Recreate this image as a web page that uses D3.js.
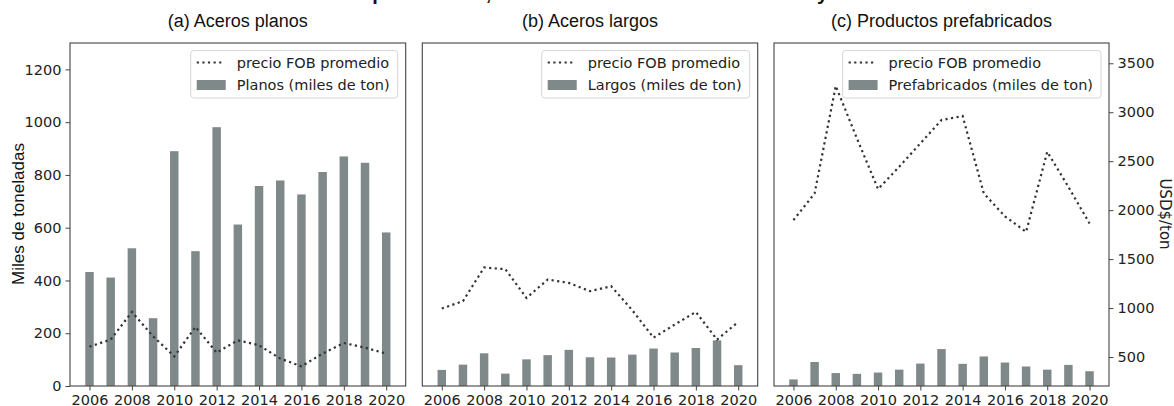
<!DOCTYPE html>
<html><head><meta charset="utf-8">
<script src="https://cdn.jsdelivr.net/npm/d3@7"></script>
<style>body{margin:0;background:#fff}svg{display:block}</style>
</head><body>
<svg id="c" width="1174" height="406"></svg>
<script>
const years = [2006,2007,2008,2009,2010,2011,2012,2013,2014,2015,2016,2017,2018,2019,2020];
const xTicks = [2006,2008,2010,2012,2014,2016,2018,2020];
const leftTicks = [0,200,400,600,800,1000,1200];
const rightTicks = [500,1000,1500,2000,2500,3000,3500];

const planosTon = [432,411,522,257,890,511,981,612,758,779,726,811,870,846,582];
const planosPrecio = [606,678,960,712,507,807,545,671,620,484,405,535,643,596,535];
const largosTon = [61,81,124,47,101,117,137,109,108,119,142,127,144,173,79];
const largosPrecio = [995,1070,1414,1397,1103,1291,1257,1172,1223,977,698,831,960,678,858];
const prefTon = [25,91,49,46,51,62,85,140,84,112,89,74,62,80,56];
const prefPrecio = [1898,2171,3268,2733,2215,2443,2682,2920,2961,2171,1937,1778,2596,2238,1864];

const titles = ["(a) Aceros planos","(b) Aceros largos","(c) Productos prefabricados"];
const barLabels = ["Planos (miles de ton)","Largos (miles de ton)","Prefabricados (miles de ton)"];
const lineLabel = "precio FOB promedio";
const tonSeries = [planosTon, largosTon, prefTon];
const priceSeries = [planosPrecio, largosPrecio, prefPrecio];

const svg = d3.select("#c");
const panels = [[70,405.7],[422.3,757.7],[774,1109]];
const topY = 43, botY = 386;
const barColor = "#80898a", lineColor = "#333", spine = "#444";
const tickFont = "DejaVu Sans", tickSize = "14.5px";
const fmt = d3.format("d");

const yL = d3.scaleLinear().domain([0,1300]).range([botY, topY]);
const yR = d3.scaleLinear().domain([204,3707]).range([botY, topY]);

// suptitle (cut off at top in the original)
svg.append("text").attr("x",349).attr("y",-0.5)
  .attr("font-family","Liberation Sans").attr("font-weight","bold").attr("font-size","20px")
  .attr("word-spacing","15px")
  .attr("fill","#111").text("Importaciones, cantidades anuales totales y valores");

panels.forEach((p,i)=>{
  const x = d3.scaleLinear().domain([2005.08,2020.92]).range(p);
  const bw = x(2000.4)-x(2000);
  const g = svg.append("g");
  g.selectAll("rect.bar").data(years).join("rect").attr("class","bar")
    .attr("x",d=>x(d)-bw/2).attr("width",bw)
    .attr("y",(d,j)=>yL(tonSeries[i][j])).attr("height",(d,j)=>yL(0)-yL(tonSeries[i][j]))
    .attr("fill",barColor);
  const line = d3.line().x((d,j)=>x(years[j])).y(d=>yR(d));
  g.append("path").datum(priceSeries[i]).attr("d",line).attr("fill","none")
    .attr("stroke",lineColor).attr("stroke-width",2.2).attr("stroke-dasharray","2.2,3.4");
  g.append("rect").attr("x",p[0]).attr("y",topY).attr("width",p[1]-p[0]).attr("height",botY-topY)
    .attr("fill","none").attr("stroke",spine).attr("stroke-width",1.1);
  const xa = g.append("g").attr("transform",`translate(0,${botY})`)
    .call(d3.axisBottom(x).tickValues(xTicks).tickFormat(fmt).tickSize(4.5).tickPadding(4));
  xa.select(".domain").remove();
  xa.selectAll("line").attr("stroke",spine);
  xa.selectAll("text").attr("font-family",tickFont).attr("font-size",tickSize).attr("fill","#222");
  if(i===0){
    const ya = g.append("g").attr("transform",`translate(${p[0]},0)`)
      .call(d3.axisLeft(yL).tickValues(leftTicks).tickFormat(fmt).tickSize(4.5).tickPadding(4));
    ya.select(".domain").remove();
    ya.selectAll("line").attr("stroke",spine);
    ya.selectAll("text").attr("font-family",tickFont).attr("font-size",tickSize).attr("fill","#222");
  }
  if(i===2){
    const ya = g.append("g").attr("transform",`translate(${p[1]},0)`)
      .call(d3.axisRight(yR).tickValues(rightTicks).tickFormat(fmt).tickSize(4.5).tickPadding(4));
    ya.select(".domain").remove();
    ya.selectAll("line").attr("stroke",spine);
    ya.selectAll("text").attr("font-family",tickFont).attr("font-size",tickSize).attr("fill","#222");
  }
  g.append("text").attr("x",(p[0]+p[1])/2).attr("y",27).attr("text-anchor","middle")
    .attr("font-family","Liberation Sans").attr("font-size","18px").attr("fill","#111").text(titles[i]);
  const lg = g.append("g");
  const txt1 = lg.append("text").attr("font-family",tickFont).attr("font-size",tickSize).attr("fill","#222").text(lineLabel);
  const txt2 = lg.append("text").attr("font-family",tickFont).attr("font-size",tickSize).attr("fill","#222").text(barLabels[i]);
  const tw = Math.max(txt1.node().getComputedTextLength(), txt2.node().getComputedTextLength());
  const right = p[1]-8, lx = right - 10 - tw - 44;
  lg.insert("rect","text").attr("x",lx).attr("y",50.5).attr("width",right-lx).attr("height",47.5)
    .attr("rx",3).attr("fill","rgba(255,255,255,0.85)").attr("stroke","#d6d6d6").attr("stroke-width",1);
  lg.append("line").attr("x1",lx+6).attr("x2",lx+34).attr("y1",62.5).attr("y2",62.5)
    .attr("stroke",lineColor).attr("stroke-width",2.2).attr("stroke-dasharray","2.2,3.4");
  lg.append("rect").attr("x",lx+6).attr("y",80).attr("width",29).attr("height",10).attr("fill",barColor);
  txt1.attr("x",lx+46).attr("y",67.5);
  txt2.attr("x",lx+46).attr("y",90);
});

svg.append("text").attr("transform","translate(24,214) rotate(-90)").attr("text-anchor","middle")
  .attr("font-family","Liberation Sans").attr("font-size","17px").attr("fill","#111").text("Miles de toneladas");
svg.append("text").attr("transform","translate(1160,214) rotate(90)").attr("text-anchor","middle")
  .attr("font-family",tickFont).attr("font-size","15px").attr("fill","#222").text("USD$/ton");
</script>
</body></html>
